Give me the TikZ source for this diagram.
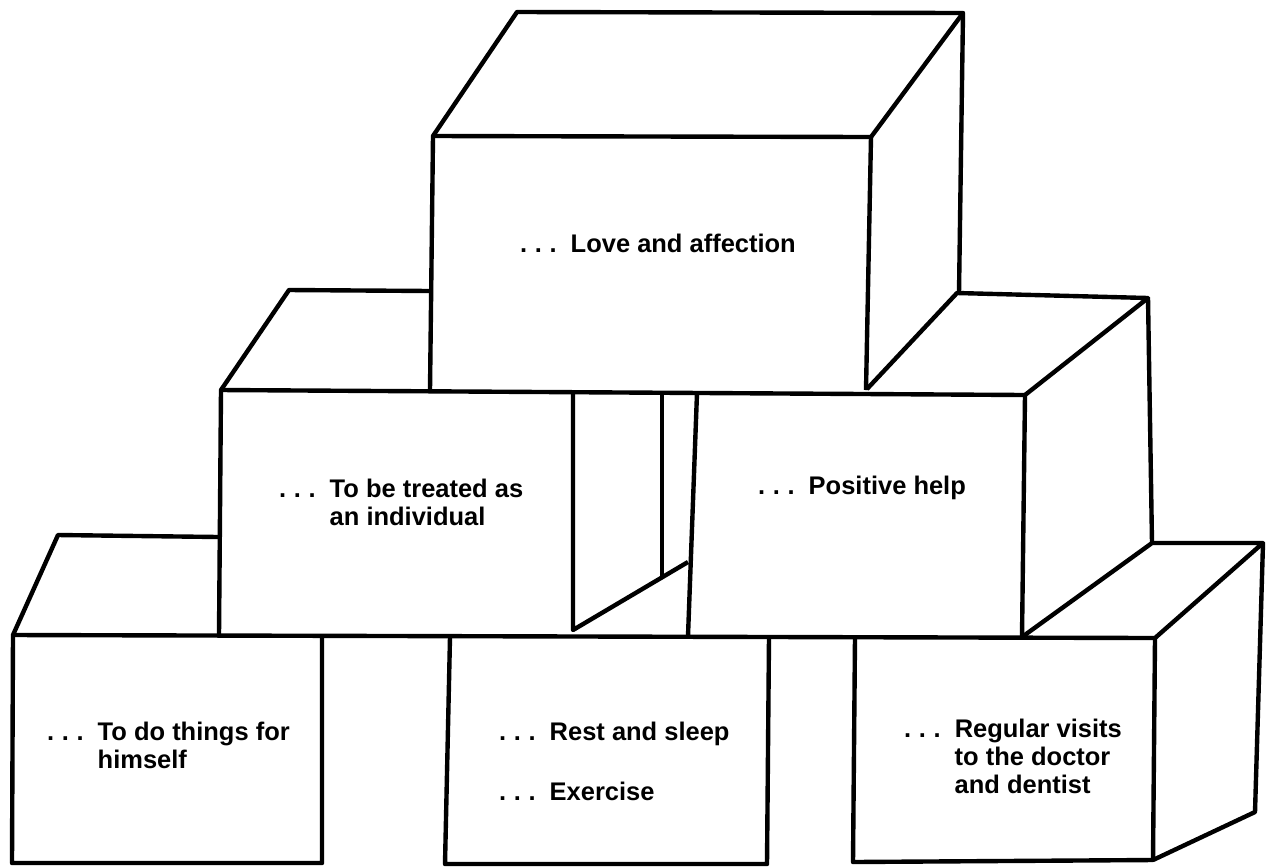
\documentclass[tikz,border=0pt]{standalone}
\usepackage{fontspec}
\setmainfont{Liberation Sans}
\usepackage{tikz}
\newcommand{\dotlead}{.\hspace{.3em}.\hspace{.3em}.}
\newcommand{\need}[1]{\begin{tabular}[t]{@{}l@{\hspace{.55em}}l@{}}\dotlead & #1\end{tabular}}

\begin{document}
\begin{tikzpicture}[x=0.02cm,y=-0.02cm,line width=2.5pt,line join=round,
  lbl/.style={anchor=base west,inner sep=0pt,font=\fontsize{14.5}{16}\selectfont\bfseries}]
    \useasboundingbox (0,0) rectangle (1271,867);
    % top box
    \draw (430,390) -- (433,136) -- (517,12) -- (963,13) -- (959,293);
    \draw (433,136) -- (871,137) -- (866,390);
    \draw (871,137) -- (963,13);
    % middle row
    \draw (221,390) -- (1025,395);
    \draw (219,635) -- (221,390) -- (289,290) -- (431,291);
    \draw (573,393) -- (573,630) -- (688,562);
    \draw[line width=1.9pt] (662,393) -- (662,577);
    \draw (697,393) -- (688,636);
    \draw (1025,395) -- (1022,637);
    \draw (867,389) -- (957,293) -- (1148,298) -- (1025,395);
    \draw (1148,298) -- (1152,543);
    % bottom row
    \draw (13,635) -- (1155,638);
    \draw (322,635) -- (322,863) -- (12,863) -- (13,635) -- (58,535) -- (219,537);
    \draw (450,637) -- (445,864) -- (767,864) -- (769,637);
    \draw (855,637) -- (853,862) -- (1153,860);
    \draw (1022,637) -- (1152,543) -- (1263,543) -- (1155,638);
    \draw (1263,543) -- (1255,812) -- (1153,860) -- (1155,638);
    % labels
    \node[lbl] (love) at (518,252) {\need{Love and affection}};
    \node[lbl] (treated) at (277,497) {\need{To be treated as\\ & an individual}};
    \node[lbl] (positive) at (756,494) {\need{Positive help}};
    \node[lbl] (himself) at (45,740) {\need{To do things for\\ & himself}};
    \node[lbl] (rest) at (497,740) {\need{Rest and sleep}};
    \node[lbl] (exercise) at (497,800) {\need{Exercise}};
    \node[lbl] (visits) at (902,737) {\need{Regular visits\\ & to the doctor\\ & and dentist}};
\end{tikzpicture}
\end{document}
